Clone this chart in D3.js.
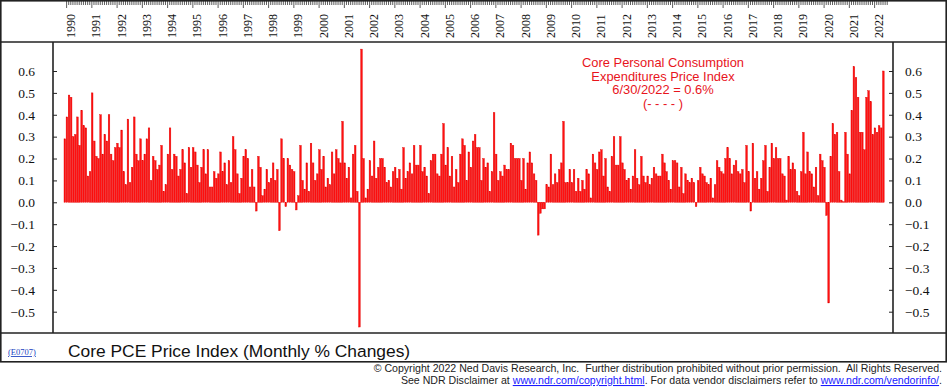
<!DOCTYPE html>
<html>
<head>
<meta charset="utf-8">
<script src="https://cdn.jsdelivr.net/npm/d3@7"></script>
<style>
  body { margin: 0; background: #fff; }
  svg { display: block; }
</style>
</head>
<body>
<div id="chart"></div>
<script>
// tick labels
var yearLabels = ["1990", "1991", "1992", "1993", "1994", "1995", "1996", "1997", "1998", "1999",
  "2000", "2001", "2002", "2003", "2004", "2005", "2006", "2007", "2008", "2009", "2010",
  "2011", "2012", "2013", "2014", "2015", "2016", "2017", "2018", "2019", "2020", "2021", "2022"];
var yTicks = [0.6, 0.5, 0.4, 0.3, 0.2, 0.1, 0.0, -0.1, -0.2, -0.3, -0.4, -0.5];

// core PCE, monthly % change, Jan 1990 .. Jun 2022 (one row per year)
var coreMonthly = [
  0.29, 0.39, 0.49, 0.48, 0.30, 0.31, 0.39, 0.26, 0.42, 0.35, 0.34, 0.12,
  0.14, 0.50, 0.28, 0.21, 0.20, 0.40, 0.22, 0.31, 0.28, 0.40, 0.22, 0.19,
  0.25, 0.27, 0.25, 0.33, 0.14, 0.08, 0.38, 0.09, 0.16, 0.39, 0.22, 0.19,
  0.29, 0.19, 0.22, 0.29, 0.34, 0.10, 0.21, 0.19, 0.15, 0.17, 0.26, 0.05,
  0.08, 0.22, 0.34, 0.15, 0.22, 0.21, 0.12, 0.15, 0.24, 0.18, 0.04, 0.25,
  0.16, 0.25, 0.23, 0.17, 0.09, 0.16, 0.24, 0.13, 0.24, 0.07, 0.07, 0.14,
  0.11, 0.13, 0.23, 0.14, 0.18, 0.08, 0.19, 0.09, 0.30, 0.24, 0.13, 0.04,
  0.11, 0.21, 0.24, 0.20, 0.07, 0.15, 0.07, -0.04, 0.21, 0.16, 0.03, 0.06,
  0.15, 0.09, 0.11, 0.18, 0.10, 0.15, -0.13, 0.29, 0.20, -0.02, 0.20, 0.17,
  0.15, 0.14, -0.035, 0.03, 0.26, 0.10, 0.06, 0.18, 0.05, 0.27, 0.18, 0.10,
  0.13, 0.24, 0.15, 0.21, 0.07, 0.11, 0.08, 0.23, 0.13, 0.24, 0.20, 0.18,
  0.37, 0.18, 0.11, 0.16, 0.02, 0.22, 0.26, 0.05, -0.57, 0.70, 0.20, 0.02,
  0.06, 0.19, 0.12, 0.28, 0.11, 0.16, 0.20, 0.20, 0.16, 0.09, 0.10, 0.07,
  0.14, 0.16, 0.11, 0.15, 0.06, 0.25, 0.11, 0.14, 0.18, 0.13, 0.26, 0.17,
  0.17, 0.26, 0.14, 0.16, 0.12, 0.04, 0.19, 0.22, 0.22, 0.13, 0.12, 0.22,
  0.36, 0.17, 0.25, 0.12, 0.21, 0.07, 0.15, 0.09, 0.22, 0.29, 0.26, 0.10,
  0.23, 0.16, 0.28, 0.31, 0.25, 0.25, 0.10, 0.20, 0.16, 0.18, 0.05, 0.14,
  0.41, 0.22, 0.10, 0.14, 0.12, 0.17, 0.15, 0.15, 0.27, 0.26, 0.20, 0.20,
  0.20, 0.10, 0.20, 0.06, 0.18, 0.23, 0.18, 0.13, 0.10, -0.15, -0.05, -0.03,
  -0.03, 0.08, 0.07, 0.22, 0.08, 0.13, 0.09, 0.15, 0.18, 0.37, 0.09, 0.09,
  0.15, 0.09, 0.15, 0.05, 0.11, 0.05, 0.10, 0.06, 0.15, 0.13, 0.02, 0.22,
  0.18, 0.15, 0.23, 0.24, 0.12, 0.20, 0.07, 0.05, 0.21, 0.30, 0.17, 0.17,
  0.30, 0.18, 0.15, 0.10, 0.11, 0.06, 0.12, 0.24, 0.11, 0.08, 0.21, 0.12,
  0.09, 0.12, 0.08, 0.11, 0.16, 0.13, 0.12, 0.12, 0.22, 0.18, 0.14, 0.10,
  0.06, 0.19, 0.19, 0.18, 0.07, 0.16, 0.04, 0.13, 0.10, 0.09, 0.11, 0.09,
  -0.02, 0.10, 0.16, 0.13, 0.12, 0.09, 0.08, 0.11, 0.02, 0.08, 0.19, 0.16,
  0.14, 0.13, 0.20, 0.25, 0.20, 0.13, 0.17, 0.19, 0.14, 0.13, 0.15, 0.09,
  0.26, 0.14, -0.04, 0.27, 0.11, 0.14, 0.06, 0.11, 0.19, 0.26, 0.05, 0.16,
  0.27, 0.20, 0.25, 0.20, 0.20, 0.13, 0.12, 0.01, 0.21, 0.15, 0.18, 0.15,
  0.05, 0.03, 0.14, 0.32, 0.13, 0.23, 0.14, 0.13, 0.07, 0.16, 0.03, 0.22,
  0.19, 0.16, -0.06, -0.46, 0.21, 0.36, 0.31, 0.32, 0.14, 0.01, 0.003, 0.32,
  0.22, 0.13, 0.42, 0.62, 0.57, 0.48, 0.32, 0.32, 0.24, 0.48, 0.51, 0.46,
  0.31, 0.34, 0.32, 0.35, 0.34, 0.60
];

var noteLines = ["Core Personal Consumption", "Expenditures Price Index", "6/30/2022 = 0.6%", "(- - - - )"];

var W = 947, H = 390;
var plot = { left: 53, right: 893, top: 42, bottom: 333 };
var barRed = "#ff1010";
var serif = "'Liberation Serif', 'Times New Roman', serif";
var sans = "'Liberation Sans', Arial, sans-serif";

var svg = d3.select("#chart").append("svg")
  .attr("width", W).attr("height", H);

var x = d3.scaleBand()
  .domain(d3.range(coreMonthly.length))
  .range([64, 64 + coreMonthly.length * 2.103])
  .paddingInner(0.22);

var y = d3.scaleLinear().domain([-0.5, 0.6]).range([311.7, 71]);

// bars
svg.append("g")
  .selectAll("rect")
  .data(coreMonthly)
  .join("rect")
  .attr("x", (d, i) => x(i))
  .attr("width", x.bandwidth())
  .attr("y", (d) => y(Math.max(0, d)))
  .attr("height", (d) => Math.abs(y(d) - y(0)))
  .attr("fill", barRed)
  .attr("stroke", "#e00000")
  .attr("stroke-width", 0.4);

// y axes, ticks pointing into the plot
var fmt = d3.format(".1f");
var left = svg.append("g")
  .attr("transform", `translate(${plot.left},0)`)
  .call(d3.axisLeft(y).tickValues(yTicks).tickSize(-4).tickPadding(18).tickFormat(fmt));
var right = svg.append("g")
  .attr("transform", `translate(${plot.right},0)`)
  .call(d3.axisRight(y).tickValues(yTicks).tickSize(-4).tickPadding(12).tickFormat(fmt));
[left, right].forEach((g) => {
  g.select(".domain").remove();
  g.selectAll("line").attr("stroke", "#222");
  g.selectAll("text")
    .attr("font-family", serif)
    .attr("font-size", 13.5)
    .attr("fill", "#111");
});

// top time axis: monthly ticks, year ticks longer
var tickOff = 2.6;
var monthIdx = d3.range(coreMonthly.length + 1);
svg.append("g")
  .selectAll("line")
  .data(monthIdx)
  .join("line")
  .attr("x1", (i) => 64 + i * x.step() + tickOff)
  .attr("x2", (i) => 64 + i * x.step() + tickOff)
  .attr("y1", 1)
  .attr("y2", (i) => (i % 12 === 0 ? 8 : 5))
  .attr("stroke", "#333")
  .attr("stroke-width", 0.8);

svg.append("g")
  .selectAll("text")
  .data(yearLabels)
  .join("text")
  .attr("transform", (d, k) => `translate(${64 + k * 12 * x.step() + tickOff + 8.5},38) rotate(-90)`)
  .attr("font-family", serif)
  .attr("font-size", 12)
  .attr("fill", "#111")
  .text((d) => d);

// frame
var frame = svg.append("g").attr("stroke", "#222").attr("stroke-width", 1.6).attr("fill", "none");
frame.append("rect").attr("x", 0.8).attr("y", 0.8).attr("width", W - 1.6).attr("height", 361);
frame.append("line").attr("x1", 0).attr("x2", W).attr("y1", plot.top).attr("y2", plot.top);
frame.append("line").attr("x1", 0).attr("x2", W).attr("y1", plot.bottom).attr("y2", plot.bottom);
frame.append("line").attr("x1", plot.left).attr("x2", plot.left).attr("y1", plot.top).attr("y2", plot.bottom);
frame.append("line").attr("x1", plot.right).attr("x2", plot.right).attr("y1", plot.top).attr("y2", plot.bottom);

// annotation
svg.append("g")
  .selectAll("text")
  .data(noteLines)
  .join("text")
  .attr("x", 663)
  .attr("y", (d, i) => 67 + i * 13.6)
  .attr("text-anchor", "middle")
  .attr("font-family", sans)
  .attr("font-size", 12.9)
  .attr("fill", "#e8141c")
  .text((d) => d);

// title panel
svg.append("text")
  .attr("x", 8).attr("y", 355)
  .attr("font-family", serif).attr("font-size", 8.5)
  .attr("fill", "#1a3fbf").attr("text-decoration", "underline")
  .text("(E0707)");
svg.append("text")
  .attr("x", 68).attr("y", 357)
  .attr("font-family", sans).attr("font-size", 17.4)
  .attr("fill", "#111")
  .text("Core PCE Price Index (Monthly % Changes)");

// copyright
var foot = svg.append("g").attr("font-family", sans).attr("font-size", 10.6).attr("fill", "#222");
foot.append("text")
  .attr("x", 942).attr("y", 372).attr("text-anchor", "end")
  .attr("xml:space", "preserve")
  .text("\u00a9 Copyright 2022 Ned Davis Research, Inc.  Further distribution prohibited without prior permission.  All Rights Reserved.");
var line2 = foot.append("text").attr("x", 942).attr("y", 384).attr("text-anchor", "end");
line2.append("tspan").text("See NDR Disclaimer at ");
line2.append("tspan").attr("fill", "#1a1aff").attr("text-decoration", "underline").text("www.ndr.com/copyright.html");
line2.append("tspan").text(". For data vendor disclaimers refer to ");
line2.append("tspan").attr("fill", "#1a1aff").attr("text-decoration", "underline").text("www.ndr.com/vendorinfo/");
line2.append("tspan").text(".");
</script>
</body>
</html>
